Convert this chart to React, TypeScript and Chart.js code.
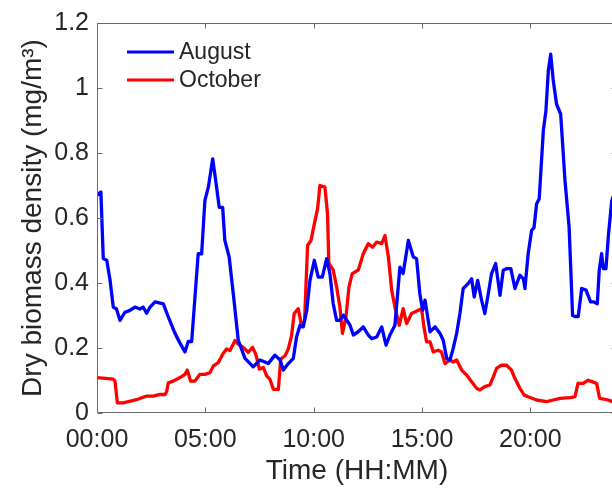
import { useEffect, useRef } from "react";
import { Chart, registerables } from "chart.js";

Chart.register(...registerables);

const xTickHours = [0, 5, 10, 15, 20];
const yTickValues = [0, 0.2, 0.4, 0.6, 0.8, 1.0, 1.2];
const seriesNames = ["August", "October"];
const seriesColors = ["#0000ff", "#ff0000"];

const augustHours = [
  0.0, 0.18, 0.29, 0.45, 0.6, 0.75, 0.9, 1.06, 1.29, 1.5, 1.75, 1.98, 2.13, 2.29, 2.45, 2.68, 3.06, 3.29, 3.6, 3.83,
  4.06, 4.21, 4.37, 4.67, 4.83, 4.98, 5.14, 5.34, 5.52, 5.64, 5.8, 5.9, 6.1, 6.29, 6.52, 6.83, 7.21, 7.52, 7.75, 7.9,
  8.21, 8.45, 8.6, 8.83, 9.06, 9.21, 9.37, 9.52, 9.68, 9.83, 10.03, 10.21, 10.4, 10.6, 10.75, 10.9, 11.06, 11.21, 11.37, 11.68,
  11.83, 12.06, 12.29, 12.52, 12.68, 12.91, 13.14, 13.34, 13.52, 13.75, 13.98, 14.13, 14.37, 14.6, 14.75, 14.9, 15.03, 15.14, 15.37, 15.6,
  15.83, 15.98, 16.14, 16.29, 16.44, 16.6, 16.75, 16.9, 17.13, 17.29, 17.41, 17.57, 17.75, 17.9, 18.06, 18.21, 18.4, 18.6, 18.75, 18.9,
  19.1, 19.29, 19.52, 19.68, 19.75, 19.9, 20.06, 20.17, 20.29, 20.41, 20.6, 20.72, 20.83, 20.94, 21.06, 21.21, 21.4, 21.6, 21.79, 21.95,
  22.06, 22.21, 22.37, 22.57, 22.78, 22.93, 23.09, 23.18, 23.29, 23.37, 23.49, 23.61, 23.76, 24.0,
];
const augustValues = [
  0.67, 0.68, 0.475, 0.47, 0.41, 0.326, 0.32, 0.285, 0.31, 0.315, 0.326, 0.32, 0.326, 0.307, 0.326, 0.342, 0.336, 0.296, 0.245, 0.215,
  0.188, 0.22, 0.22, 0.49, 0.49, 0.654, 0.695, 0.782, 0.695, 0.633, 0.633, 0.531, 0.48, 0.367, 0.224, 0.168, 0.142, 0.163, 0.157, 0.152,
  0.178, 0.163, 0.132, 0.152, 0.168, 0.234, 0.27, 0.265, 0.316, 0.408, 0.47, 0.418, 0.418, 0.475, 0.429, 0.337, 0.285, 0.285, 0.301, 0.27,
  0.24, 0.25, 0.265, 0.24, 0.229, 0.234, 0.265, 0.209, 0.24, 0.27, 0.449, 0.429, 0.531, 0.48, 0.475, 0.367, 0.316, 0.347, 0.25, 0.265,
  0.245, 0.224, 0.168, 0.163, 0.199, 0.245, 0.306, 0.383, 0.398, 0.413, 0.357, 0.408, 0.347, 0.306, 0.367, 0.429, 0.46, 0.362, 0.439, 0.444,
  0.444, 0.383, 0.424, 0.413, 0.383, 0.49, 0.562, 0.57, 0.644, 0.659, 0.869, 0.93, 1.053, 1.104, 1.022, 0.95, 0.92, 0.715, 0.572, 0.3,
  0.297, 0.297, 0.383, 0.378, 0.342, 0.342, 0.336, 0.439, 0.49, 0.444, 0.444, 0.552, 0.654, 0.7,
];

const octoberHours = [
  0.0, 0.75, 0.83, 0.94, 1.2, 1.5, 1.83, 2.06, 2.29, 2.6, 2.9, 3.14, 3.22, 3.29, 3.52, 3.83, 4.06, 4.17, 4.32, 4.52,
  4.75, 4.98, 5.21, 5.37, 5.6, 5.8, 5.98, 6.14, 6.37, 6.52, 6.75, 6.98, 7.18, 7.33, 7.49, 7.68, 7.83, 7.98, 8.14, 8.37,
  8.48, 8.68, 8.83, 8.98, 9.1, 9.29, 9.45, 9.58, 9.72, 9.88, 10.03, 10.18, 10.29, 10.52, 10.64, 10.7, 10.9, 11.06, 11.21, 11.33,
  11.49, 11.63, 11.78, 12.06, 12.29, 12.52, 12.72, 12.91, 13.14, 13.29, 13.45, 13.6, 13.75, 13.95, 14.13, 14.29, 14.52, 14.83, 14.98, 15.09,
  15.21, 15.37, 15.52, 15.75, 15.9, 16.06, 16.29, 16.44, 16.6, 16.83, 17.06, 17.29, 17.52, 17.67, 17.9, 18.13, 18.29, 18.44, 18.67, 18.9,
  19.13, 19.29, 19.52, 19.72, 19.9, 20.29, 20.75, 21.06, 21.37, 21.83, 22.06, 22.2, 22.44, 22.67, 22.9, 23.06, 23.2, 23.6, 23.8, 24.0,
];
const octoberValues = [
  0.109, 0.104, 0.098, 0.031, 0.031, 0.036, 0.041, 0.047, 0.052, 0.052, 0.057, 0.057, 0.067, 0.093, 0.098, 0.109, 0.119, 0.132, 0.098, 0.098,
  0.119, 0.119, 0.124, 0.145, 0.155, 0.181, 0.197, 0.192, 0.223, 0.212, 0.202, 0.187, 0.202, 0.181, 0.135, 0.14, 0.114, 0.104, 0.073, 0.073,
  0.166, 0.176, 0.197, 0.238, 0.306, 0.321, 0.265, 0.285, 0.516, 0.531, 0.582, 0.628, 0.7, 0.695, 0.613, 0.46, 0.44, 0.388, 0.326, 0.245,
  0.296, 0.388, 0.429, 0.44, 0.49, 0.521, 0.51, 0.526, 0.521, 0.546, 0.48, 0.378, 0.326, 0.27, 0.321, 0.275, 0.306, 0.316, 0.321, 0.265,
  0.219, 0.219, 0.188, 0.193, 0.188, 0.152, 0.163, 0.157, 0.163, 0.132, 0.117, 0.096, 0.076, 0.071, 0.081, 0.086, 0.111, 0.137, 0.147, 0.147,
  0.132, 0.106, 0.076, 0.055, 0.05, 0.04, 0.035, 0.04, 0.045, 0.047, 0.05, 0.091, 0.091, 0.101, 0.095, 0.091, 0.045, 0.04, 0.035, 0.06,
];

const FONT = '"Liberation Sans", Arial, Helvetica, sans-serif';
const TEXT = "#262626";
const AXIS = "#6a6a6a";

function fmtHour(h: number) {
  const hh = Math.floor(h);
  const mm = Math.round((h - hh) * 60);
  return String(hh).padStart(2, "0") + ":" + String(mm).padStart(2, "0");
}

const framePlugin = {
  id: "matlabFrame",
  afterDraw(chart: any) {
    const { ctx, chartArea, scales } = chart;
    const { left, right, top, bottom } = chartArea;
    ctx.save();
    ctx.strokeStyle = AXIS;
    ctx.lineWidth = 1;
    const L = Math.round(left) + 0.5;
    const R = Math.round(right) - 0.5;
    const T = Math.round(top) + 0.5;
    const B = Math.round(bottom) - 0.5;
    ctx.beginPath();
    ctx.moveTo(L, T);
    ctx.lineTo(R, T);
    ctx.lineTo(R, B);
    ctx.lineTo(L, B);
    ctx.closePath();
    ctx.stroke();
    const tl = 5;
    ctx.beginPath();
    scales.x.ticks.forEach((t: any) => {
      const px = Math.round(scales.x.getPixelForValue(t.value)) + 0.5;
      ctx.moveTo(px, B);
      ctx.lineTo(px, B - tl);
      ctx.moveTo(px, T);
      ctx.lineTo(px, T + tl);
    });
    scales.y.ticks.forEach((t: any) => {
      const py = Math.round(scales.y.getPixelForValue(t.value)) + 0.5;
      ctx.moveTo(L, py);
      ctx.lineTo(L + tl, py);
      ctx.moveTo(R, py);
      ctx.lineTo(R - tl, py);
    });
    ctx.stroke();

    // legend
    const legendX0 = 127;
    const legendX1 = 174;
    const legendYs = [52, 80];
    ctx.font = "23px " + FONT;
    ctx.textBaseline = "middle";
    ctx.textAlign = "left";
    chart.data.datasets.forEach((ds: any, i: number) => {
      const y = legendYs[i];
      ctx.strokeStyle = ds.borderColor;
      ctx.lineWidth = 3.2;
      ctx.beginPath();
      ctx.moveTo(legendX0, y);
      ctx.lineTo(legendX1, y);
      ctx.stroke();
      ctx.fillStyle = TEXT;
      ctx.fillText(ds.label, 179, y + 1);
    });
    ctx.restore();
  },
};

export default function App() {
  const ref = useRef<HTMLCanvasElement | null>(null);
  useEffect(() => {
    if (!ref.current) return;
    const aug = augustHours.map((h, i) => ({ x: h, y: augustValues[i] }));
    const oct = octoberHours.map((h, i) => ({ x: h, y: octoberValues[i] }));
    const lineStyle = { borderWidth: 3.3, pointRadius: 0, tension: 0, fill: false, borderJoinStyle: "round", borderCapStyle: "round" };
    const chart = new Chart(ref.current, {
      type: "line",
      data: {
        datasets: [
          { label: seriesNames[0], data: aug, borderColor: seriesColors[0], ...lineStyle },
          { label: seriesNames[1], data: oct, borderColor: seriesColors[1], ...lineStyle },
        ],
      },
      options: {
        responsive: false,
        animation: false,
        devicePixelRatio: 1,
        layout: { padding: { left: 0, top: 22, right: 13, bottom: 0 } },
        plugins: { legend: { display: false }, tooltip: { enabled: false } },
        scales: {
          x: {
            type: "linear",
            min: 0,
            max: 24,
            grid: { display: false, drawTicks: false },
            border: { display: false },
            afterBuildTicks: (s: any) => {
              s.ticks = xTickHours.map((v) => ({ value: v }));
            },
            afterFit: (s: any) => {
              s.height = 75;
            },
            ticks: {
              padding: 12,
              maxRotation: 0,
              autoSkip: false,
              color: TEXT,
              font: { family: FONT, size: 25 },
              callback: (v: any) => fmtHour(Number(v)),
            },
            title: {
              display: true,
              text: "Time (HH:MM)",
              color: TEXT,
              font: { family: FONT, size: 28 },
              padding: { top: 0, bottom: 0 },
            },
          },
          y: {
            type: "linear",
            min: 0,
            max: 1.2,
            grid: { display: false, drawTicks: false },
            border: { display: false },
            afterBuildTicks: (s: any) => {
              s.ticks = yTickValues.map((v) => ({ value: v }));
            },
            afterFit: (s: any) => {
              s.width = 97;
            },
            ticks: {
              padding: 8,
              autoSkip: false,
              color: TEXT,
              font: { family: FONT, size: 25 },
              callback: (v: any) => String(parseFloat(Number(v).toFixed(1))),
            },
            title: {
              display: true,
              text: "Dry biomass density (mg/m³)",
              color: TEXT,
              font: { family: FONT, size: 28 },
              padding: { top: 16, bottom: 0 },
            },
          },
        },
      },
      plugins: [framePlugin],
    } as any);
    return () => chart.destroy();
  }, []);
  return (
    <div style={{ position: "fixed", left: 0, top: 0, width: 612, height: 488, overflow: "hidden", background: "#fff" }}>
      <canvas ref={ref} width={630} height={488} style={{ display: "block", width: 630, height: 488 }} />
    </div>
  );
}
